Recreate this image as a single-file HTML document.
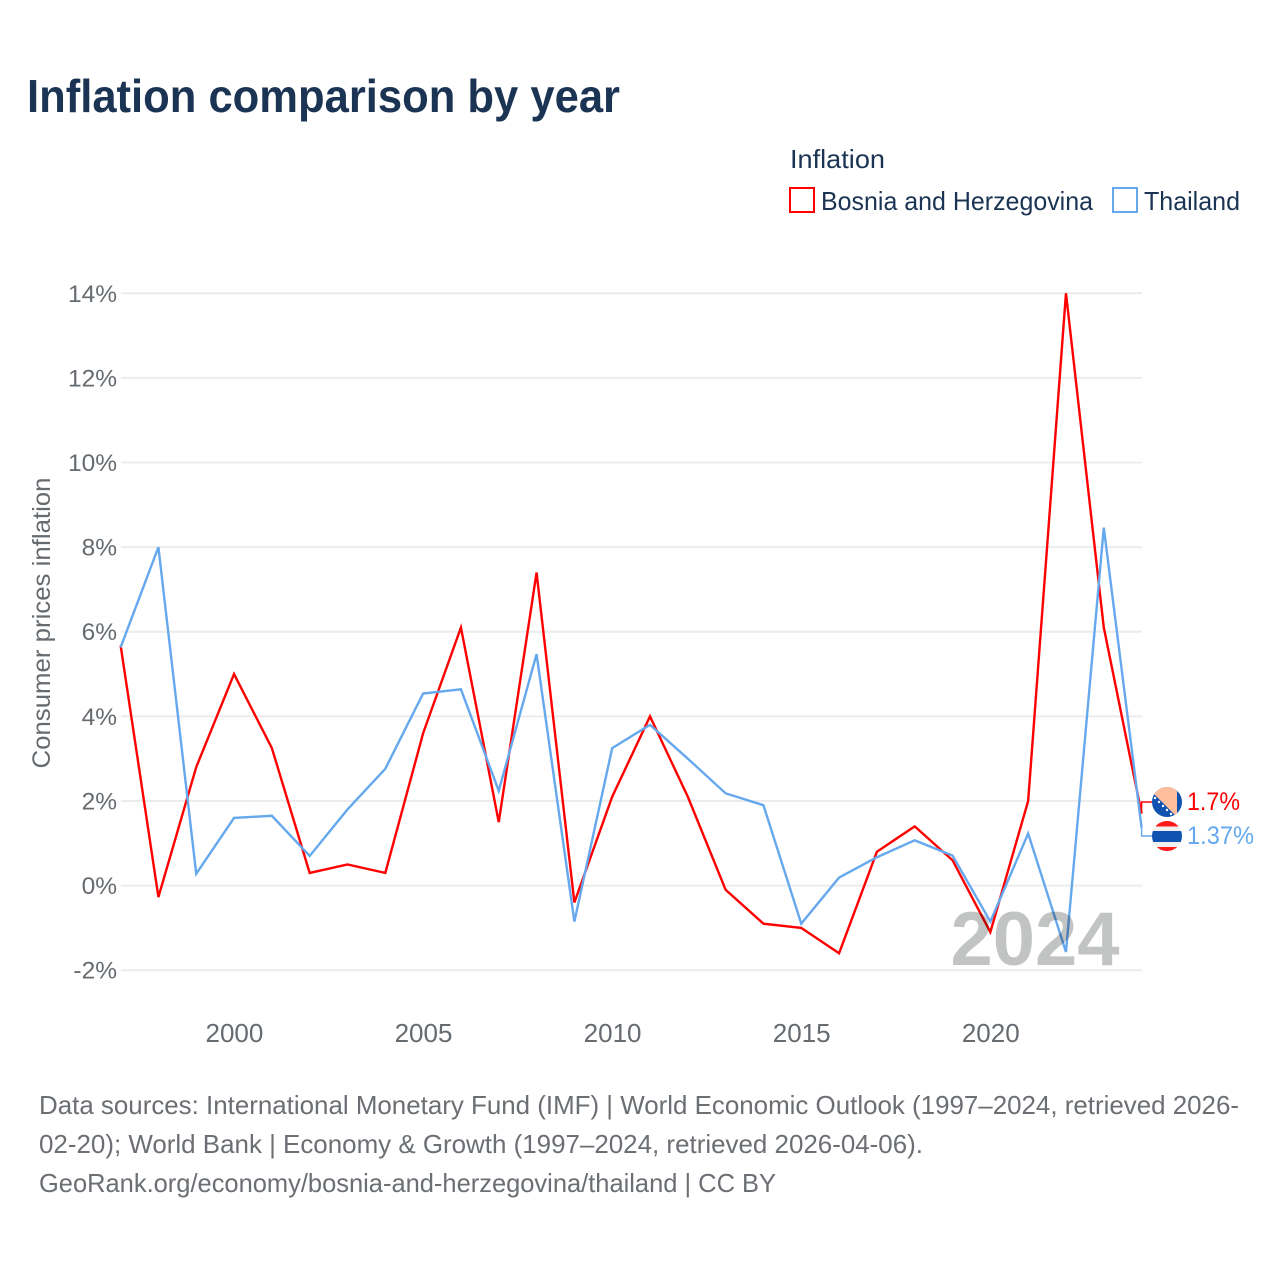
<!DOCTYPE html>
<html lang="en">
<head>
<meta charset="utf-8">
<title>Inflation comparison by year</title>
<style>
html,body{margin:0;padding:0;background:#fff;width:1280px;height:1280px;overflow:hidden}
svg{display:block}
text{font-family:"Liberation Sans",sans-serif}
</style>
</head>
<body>
<svg id="chart" width="1280" height="1280" viewBox="0 0 1280 1280" xmlns="http://www.w3.org/2000/svg">
  <defs>
    <clipPath id="clip-ba"><circle cx="1167" cy="802" r="15"/></clipPath>
    <clipPath id="clip-th"><circle cx="1167" cy="836" r="15"/></clipPath>
  </defs>
  <rect width="1280" height="1280" fill="#fff"/>
  <text x="27" y="112" font-size="46" font-weight="700" fill="#1b3454" textLength="593" lengthAdjust="spacingAndGlyphs">Inflation comparison by year</text>

  <g>
    <text x="790" y="168" font-size="26" fill="#1b3454" textLength="95" lengthAdjust="spacingAndGlyphs">Inflation</text>
    <rect x="790" y="188" width="24" height="24" fill="none" stroke="#ff0000" stroke-width="2"/>
    <text x="821" y="210" font-size="26" fill="#1b3454" textLength="272" lengthAdjust="spacingAndGlyphs">Bosnia and Herzegovina</text>
    <rect x="1113" y="188" width="24" height="24" fill="none" stroke="#66a8ee" stroke-width="2"/>
    <text x="1144" y="210" font-size="26" fill="#1b3454" textLength="96" lengthAdjust="spacingAndGlyphs">Thailand</text>
  </g>

  <g id="grid"></g>
  <g id="yaxis"></g>
  <g id="xaxis"></g>
  <text transform="translate(50,623) rotate(-90)" text-anchor="middle" font-size="25" fill="#666b70" textLength="291" lengthAdjust="spacingAndGlyphs">Consumer prices inflation</text>

  <g id="series"></g>
  <text x="1035" y="965" text-anchor="middle" font-size="76" font-weight="700" fill="#c2c4c4" style="mix-blend-mode:multiply">2024</text>

  <g clip-path="url(#clip-ba)">
    <rect x="1152" y="787" width="30" height="30" fill="#0f52b0"/>
    <polygon points="1147,787 1177,787 1177,817" fill="#ffbf9e"/>
    <g fill="#ffffff">
      <circle cx="1155" cy="798" r="1.2"/><circle cx="1159" cy="802" r="1.2"/><circle cx="1163" cy="806" r="1.2"/><circle cx="1167" cy="810" r="1.2"/><circle cx="1171" cy="814" r="1.2"/>
    </g>
  </g>
  <g clip-path="url(#clip-th)">
    <rect x="1152" y="821" width="30" height="30" fill="#f0f0f0"/>
    <rect x="1152" y="821" width="30" height="5.5" fill="#ff1a1a"/>
    <rect x="1152" y="847" width="30" height="5" fill="#ff1a1a"/>
    <rect x="1152" y="831" width="30" height="11" fill="#0f52b0"/>
  </g>
  <g id="labels"></g>

  <g font-size="26" fill="#6b6f73">
    <text x="39" y="1114" textLength="1200" lengthAdjust="spacingAndGlyphs">Data sources: International Monetary Fund (IMF) | World Economic Outlook (1997–2024, retrieved 2026-</text>
    <text x="39" y="1153" textLength="884" lengthAdjust="spacingAndGlyphs">02-20); World Bank | Economy &amp; Growth (1997–2024, retrieved 2026-04-06).</text>
    <text x="39" y="1192" textLength="737" lengthAdjust="spacingAndGlyphs">GeoRank.org/economy/bosnia-and-herzegovina/thailand | CC BY</text>
  </g>
</svg>
<script>
const years = [1997,1998,1999,2000,2001,2002,2003,2004,2005,2006,2007,2008,2009,2010,2011,2012,2013,2014,2015,2016,2017,2018,2019,2020,2021,2022,2023,2024];
const bosnia = [5.68,-0.27,2.8,5.0,3.25,0.3,0.5,0.3,3.6,6.1,1.5,7.4,-0.4,2.1,4.0,2.1,-0.1,-0.9,-1.0,-1.6,0.8,1.4,0.6,-1.1,2.0,14.0,6.1,1.7];
const thailand = [5.63,8.0,0.28,1.6,1.65,0.7,1.8,2.76,4.54,4.64,2.24,5.47,-0.85,3.25,3.8,3.0,2.18,1.9,-0.9,0.19,0.67,1.07,0.71,-0.85,1.23,-1.57,8.46,1.37];
const yTicks = [-2,0,2,4,6,8,10,12,14];
const xTicks = [2000,2005,2010,2015,2020];
const endLabels = ['1.7%','1.37%'];

const NS = 'http://www.w3.org/2000/svg';
function xScale(v){ return 120.6 + (v - 1997) * (1141.6 - 120.6) / 27; }
function yScale(v){ return 885.6 - v * 42.31; }
function make(tag, attrs, parent){
  const el = document.createElementNS(NS, tag);
  for (const k in attrs) el.setAttribute(k, attrs[k]);
  parent.appendChild(el);
  return el;
}

const grid = document.getElementById('grid');
const yaxis = document.getElementById('yaxis');
yTicks.forEach(function(t){
  const line = make('line', {x1:121, x2:1142, y1:yScale(t), y2:yScale(t), stroke:'#ececec', 'stroke-width':2}, grid);
  
  
  const label = make('text', {x:117, y:yScale(t)+8.5, 'text-anchor':'end', 'font-size':24.5, fill:'#666b70'}, yaxis);
  
  
  label.textContent = t + '%';
});

const xaxis = document.getElementById('xaxis');
xTicks.forEach(function(t){
  const label = make('text', {x:xScale(t)+0.4, y:1042, 'text-anchor':'middle', 'font-size':26, fill:'#666b70'}, xaxis);
  
  
  label.textContent = t;
});

const seriesGroup = document.getElementById('series');
function pathFor(values){
  return values.map(function(v,i){ return (i ? 'L' : 'M') + xScale(years[i]).toFixed(2) + ' ' + yScale(v).toFixed(2); }).join(' ');
}
const redLine = make('path', {d:pathFor(bosnia), fill:'none', stroke:'#ff0000', 'stroke-width':2.4, 'stroke-linejoin':'miter'}, seriesGroup);


const blueLine = make('path', {d:pathFor(thailand), fill:'none', stroke:'#66a8ee', 'stroke-width':2.4, 'stroke-linejoin':'miter'}, seriesGroup);



const lastX = xScale(years[years.length - 1]);
const redEnd = yScale(bosnia[bosnia.length - 1]);
const blueEnd = yScale(thailand[thailand.length - 1]);
const redConnector = make('path', {d:'M' + lastX + ' ' + redEnd + ' V802 H1152', fill:'none', stroke:'#ff0000', 'stroke-width':1.4}, seriesGroup);


const blueConnector = make('path', {d:'M' + lastX + ' ' + blueEnd + ' V836 H1152', fill:'none', stroke:'#66a8ee', 'stroke-width':1.4}, seriesGroup);



const labels = document.getElementById('labels');
const redLabel = make('text', {x:1187, y:810, 'font-size':25, fill:'#ff0000', textLength:53, lengthAdjust:'spacingAndGlyphs'}, labels);


redLabel.textContent = endLabels[0];
const blueLabel = make('text', {x:1187, y:844, 'font-size':25, fill:'#66a8ee', textLength:67, lengthAdjust:'spacingAndGlyphs'}, labels);


blueLabel.textContent = endLabels[1];
</script>
</body>
</html>
